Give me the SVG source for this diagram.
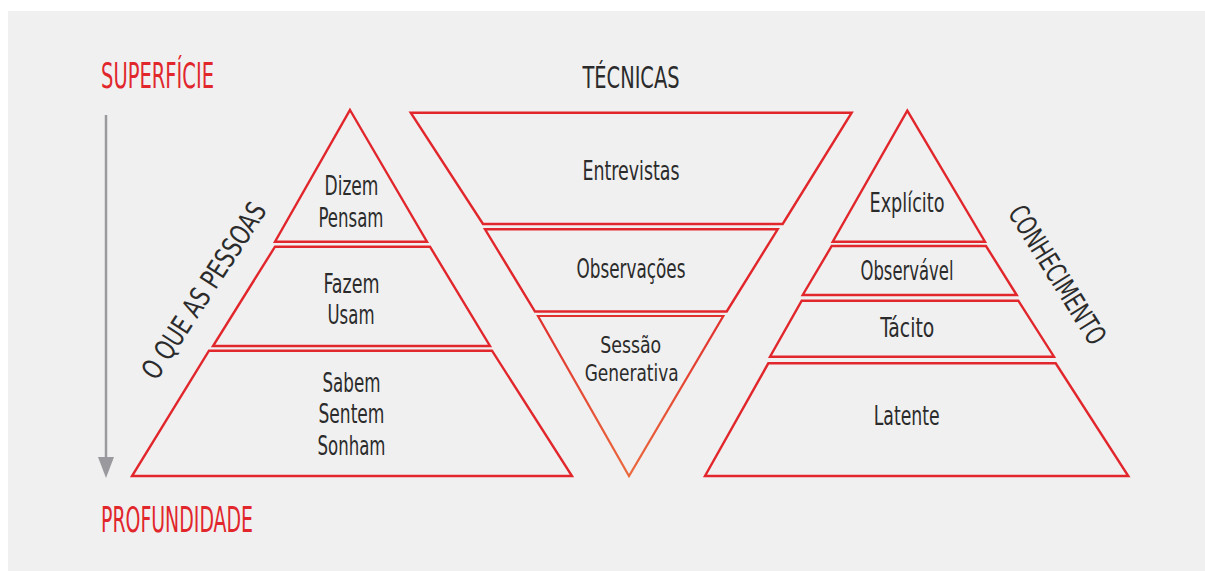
<svg xmlns="http://www.w3.org/2000/svg" width="1205" height="571" viewBox="0 0 1205 571">
<style>
.tier{fill:none;stroke:#e1262c;stroke-width:2.4;stroke-linejoin:miter}
.lbl{font-family:"Liberation Sans Narrow","DejaVu Sans Condensed","Liberation Sans",sans-serif;font-size:26px;fill:#2b2b2b;text-anchor:middle}
.sm{font-size:23px}
.head{font-family:"Liberation Sans Narrow","DejaVu Sans Condensed","Liberation Sans",sans-serif;font-size:35px;fill:#e1262c}
.side{font-family:"Liberation Sans Narrow","DejaVu Sans Condensed","Liberation Sans",sans-serif;font-size:28px;fill:#2b2b2b;text-anchor:middle}
</style>
<defs>
<linearGradient id="og" gradientUnits="userSpaceOnUse" x1="0" y1="316" x2="0" y2="476">
<stop offset="0" stop-color="#e1302e"/>
<stop offset="1" stop-color="#ea6a3e"/>
</linearGradient>
</defs>
<rect x="0" y="0" width="1205" height="571" fill="#ffffff"/>
<rect x="8" y="11" width="1197" height="560" fill="#f0f0f0"/>

<g id="axis">
<text class="head" x="101" y="88" textLength="113" lengthAdjust="spacingAndGlyphs">SUPERFÍCIE</text>
<text class="head" x="101" y="532" textLength="152" lengthAdjust="spacingAndGlyphs">PROFUNDIDADE</text>
</g>

<g id="connectors">
<line x1="106" y1="115" x2="106" y2="460" stroke="#9a9a9e" stroke-width="2.5"/>
<polygon points="98,457 114,457 106,478" fill="#9a9a9e"/>
</g>

<g id="pessoas">
<text class="side" transform="translate(212,296) rotate(-57)" textLength="204" lengthAdjust="spacingAndGlyphs">O QUE AS PESSOAS</text>
<g id="p-dizem">
<polygon class="tier" points="350,110 427,241.7 275,241.7"/>
<text class="lbl" x="351.5" y="195" textLength="54" lengthAdjust="spacingAndGlyphs">Dizem</text>
<text class="lbl" x="351" y="227" textLength="65" lengthAdjust="spacingAndGlyphs">Pensam</text>
</g>
<g id="p-fazem">
<polygon class="tier" points="275,246.7 430,246.7 490,346 213,346"/>
<text class="lbl" x="351.5" y="292.7" textLength="56" lengthAdjust="spacingAndGlyphs">Fazem</text>
<text class="lbl" x="351" y="324" textLength="47" lengthAdjust="spacingAndGlyphs">Usam</text>
</g>
<g id="p-sabem">
<polygon class="tier" points="209,350.7 492,350.7 572,476 132,476"/>
<text class="lbl" x="351.5" y="392" textLength="58" lengthAdjust="spacingAndGlyphs">Sabem</text>
<text class="lbl" x="351.5" y="423" textLength="66" lengthAdjust="spacingAndGlyphs">Sentem</text>
<text class="lbl" x="351.5" y="455" textLength="68" lengthAdjust="spacingAndGlyphs">Sonham</text>
</g>
</g>

<g id="tecnicas">
<text class="side" x="631" y="88.3" style="font-size:31px" textLength="97" lengthAdjust="spacingAndGlyphs">TÉCNICAS</text>
<g id="t-entrevistas">
<polygon class="tier" points="410.7,112.7 851.7,112.7 782.7,224 483,224"/>
<text class="lbl" x="631" y="180" textLength="97" lengthAdjust="spacingAndGlyphs">Entrevistas</text>
</g>
<g id="t-observacoes">
<polygon class="tier" points="485,229.3 777.7,229.3 726.7,311.5 535,311.5"/>
<text class="lbl" x="631" y="278" textLength="109" lengthAdjust="spacingAndGlyphs">Observações</text>
</g>
<g id="t-sessao">
<polygon class="tier" style="stroke:url(#og);stroke-width:2.2" points="538,316 723.3,316 629,476"/>
<text class="lbl sm" x="630.7" y="353" textLength="61" lengthAdjust="spacingAndGlyphs">Sessão</text>
<text class="lbl sm" x="631.7" y="381" textLength="94" lengthAdjust="spacingAndGlyphs">Generativa</text>
</g>
</g>

<g id="conhecimento">
<text class="side" transform="translate(1049,280) rotate(58)" textLength="158" lengthAdjust="spacingAndGlyphs">CONHECIMENTO</text>
<g id="c-explicito">
<polygon class="tier" points="907.3,110.7 985,241.7 832.7,241.7"/>
<text class="lbl" x="907" y="211.7" textLength="75" lengthAdjust="spacingAndGlyphs">Explícito</text>
</g>
<g id="c-observavel">
<polygon class="tier" points="831.7,246 986,246 1016.7,295 802.7,295"/>
<text class="lbl" x="907" y="280" textLength="93" lengthAdjust="spacingAndGlyphs">Observável</text>
</g>
<g id="c-tacito">
<polygon class="tier" points="801.7,300.7 1018.3,300.7 1054,356.7 770,356.7"/>
<text class="lbl" x="907.3" y="337.3" textLength="54" lengthAdjust="spacingAndGlyphs">Tácito</text>
</g>
<g id="c-latente">
<polygon class="tier" points="768.3,363.3 1055.7,363.3 1128.3,476 705,476"/>
<text class="lbl" x="906.7" y="425" textLength="66" lengthAdjust="spacingAndGlyphs">Latente</text>
</g>
</g>
</svg>
